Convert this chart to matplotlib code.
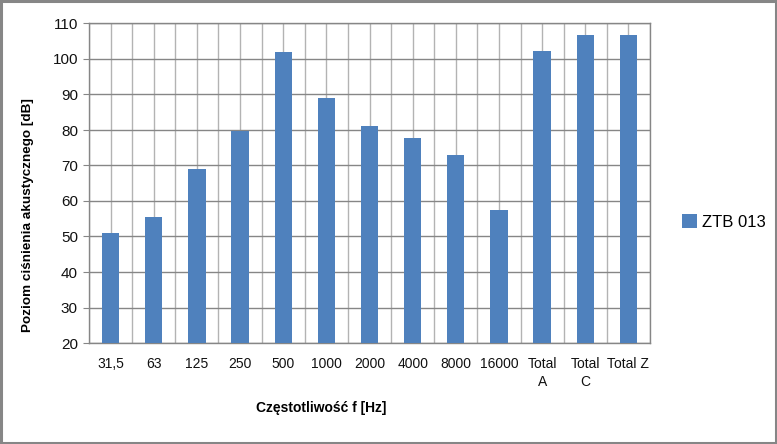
import matplotlib
matplotlib.use("Agg")
import matplotlib.pyplot as plt
from matplotlib.patches import Rectangle
import numpy as np

categories = ["31,5", "63", "125", "250", "500", "1000", "2000", "4000", "8000",
              "16000", "Total\nA", "Total\nC", "Total Z"]
values = [51.1, 55.4, 69.0, 79.8, 102.0, 89.0, 81.2, 77.8, 72.9, 57.5, 102.2, 106.8, 106.8]
series_name = "ZTB 013"
yticks = [20, 30, 40, 50, 60, 70, 80, 90, 100, 110]

sans = ["Liberation Sans", "DejaVu Sans"]

fig = plt.figure(figsize=(7.77, 4.44), dpi=100)
ax = fig.add_axes([89/777, 1 - 343/444, 561/777, (343 - 23.5)/444])

x = np.arange(len(categories))
ax.bar(x, values, width=0.4, color="#4F81BD", zorder=3, label=series_name)

ax.set_xlim(-0.5, len(categories) - 0.5)
ax.set_ylim(20, 110)
ax.set_yticks(yticks)
ax.set_yticklabels([str(t) for t in yticks], family=sans, fontsize=11, color="#111111")
ax.set_xticks(x)
ax.set_xticklabels(categories, family=sans, fontsize=10, color="#111111", linespacing=1.35, va="top")
ax.tick_params(axis="x", length=0, pad=10)
ax.tick_params(axis="y", length=4, width=0.8, color="#868686", pad=4)

for t in yticks:
    ax.axhline(t, color="#868686", lw=1.0, zorder=1)
for xv in np.arange(-0.5, len(categories), 0.5):
    ax.axvline(xv, color="#B3B3B3", lw=1.0, zorder=0.5)

for s in ax.spines.values():
    s.set_color("#868686")
    s.set_linewidth(1.0)

ax.set_xlabel("Częstotliwość f [Hz]", family=sans, fontsize=10, fontweight="bold", labelpad=10)
ax.xaxis.set_label_coords((321 - 89) / 561, -(408 - 343) / 319.5)
ax.xaxis.label.set_va("center")
ax.set_ylabel("Poziom ciśnienia akustycznego [dB]", family=sans, fontsize=9.7, fontweight="bold")
ax.yaxis.set_label_coords(-(89 - 28) / 561, (343 - 215) / 319.5)
ax.yaxis.label.set_va("center")

leg = ax.legend(loc="center left", bbox_to_anchor=((682 - 89) / 561, (343 - 222) / 319.5),
                frameon=False, prop={"family": sans, "size": 12},
                borderpad=0, borderaxespad=0,
                handlelength=0.9, handleheight=0.9, handletextpad=0.3)

fig.patches.append(Rectangle((0.0015, 0.0025), 0.997, 0.995, transform=fig.transFigure,
                             fill=False, edgecolor="#868686", linewidth=2.2))

fig.savefig("out.png", dpi=100)
